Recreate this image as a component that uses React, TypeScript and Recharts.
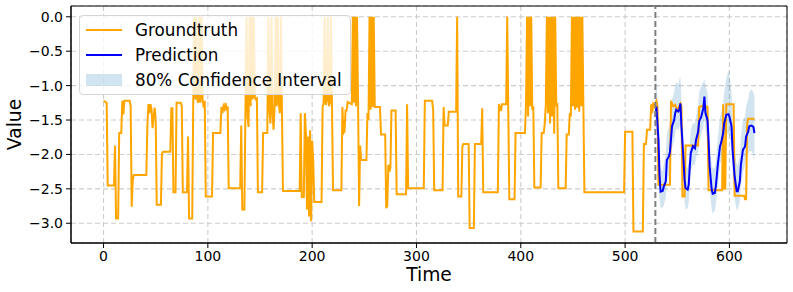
import React from 'react';
import {
  ComposedChart,
  Line,
  Area,
  XAxis,
  YAxis,
  CartesianGrid,
  ReferenceLine,
  ReferenceArea,
} from 'recharts';

// Groundtruth series: [time, value]
const groundtruth: [number, number][] = [
  [0, -1.22], [3, -1.25], [4, -2.45], [10, -2.45], [11, -1.87], [12, -2.93], [14, -2.93], [15, -1.69], [17, -1.69], [18, -1.22], [19, -1.42], [20, -1.22], [25, -1.22], [26, -1.3], [27, -2.76], [28, -2.37], [29, -2.3], [41, -2.3], [42, -1.6], [43, -1.27], [44, -1.4], [45, -1.27], [46, -1.35], [47, -1.62], [48, -1.45], [49, -1.32], [50, -1.5], [51, -2.73], [55, -2.73], [56, -1.99], [57, -1.96], [64, -1.96], [65, -1.33], [66, -1.33], [67, -2.55], [69, -2.55], [70, -1.25], [74, -1.25], [75, -1.3], [76, -2.55], [80, -2.55], [81, -1.74], [82, -2.93], [85, -2.93],
  [86, -1.2], [87, 0], [88, -1.2], [89, 0], [90, -1.22], [91, -1.25], [92, 0], [93, -1.25], [94, 0], [95, -1.2], [96, -1.32], [97, -1.22], [98, -2.61], [104, -2.61], [105, -1.69], [112, -1.69], [113, -1.31], [114, -1.4], [115, -1.3], [116, -1.34], [117, -1.25], [118, -1.36], [119, -1.3], [120, -2.49], [131, -2.49], [132, -1.58], [133, -2.8], [135, -2.8], [136, -1.4], [137, 0], [138, -1.45], [139, -1.6], [140, 0], [141, -1.3], [142, 0], [143, -1.2], [144, 0], [145, -1.17], [146, -1.2], [147, -1.17], [148, -2.55], [152, -2.55], [153, -1.69], [157, -1.69], [158, 0], [159, -1.35], [160, -1.55], [161, 0], [162, -1.4], [163, -1.64], [164, -1.3], [165, 0], [166, -1.3], [167, 0], [168, -1.25], [169, -1.4], [170, 0], [171, -1.35], [172, -2.53], [188, -2.53], [189, -1.4], [190, -2.62], [192, -2.62], [193, -1.4], [194, -1.7], [195, -2.8], [196, -1.74], [197, -2.9], [198, -1.65], [199, -2.97], [200, -1.8], [201, -2.1], [202, -2.69], [209, -2.69], [210, -1.31], [211, -1.25], [212, 0], [213, -1.28], [214, -1.22], [215, 0], [216, -1.3], [217, -1.25], [218, 0], [219, -1.28], [220, -2.52], [228, -2.52], [229, -1.31], [230, -1.69], [231, -1.67], [232, -1.36], [233, -1.36], [234, -1.24], [238, -1.27], [239, 0], [240, -1.25], [241, 0], [242, -1.3], [243, 0], [244, -1.25], [245, -2.75], [246, -1.87], [247, -2.08], [252, -2.08], [253, -1.4], [254, -1.5], [255, 0], [256, -1.35], [257, 0], [258, -1.31], [259, 0], [260, -1.31], [265, -1.31], [266, -1.71], [270, -1.71], [271, -2.78], [272, -2.75], [273, -2.15], [274, -2.25], [275, -2.2], [276, -1.36], [280, -1.36], [281, -2.58], [290, -2.58], [291, -1.27], [292, -2.49], [307, -2.49], [308, -1.22], [315, -1.22], [316, -1.36], [317, -2.52], [325, -2.52], [326, -1.31], [327, -1.58], [330, -1.58], [331, -1.38], [338, -1.38], [339, 0], [340, -2.61], [343, -2.61], [344, -1.88], [345, -1.85], [350, -1.85], [351, -3.07], [355, -3.07], [356, -1.85], [362, -1.85], [363, -1.33], [364, -2.55], [378, -2.55], [379, -1.27], [380, -1.31], [381, -1.37], [382, -1.27], [386, -1.27], [387, 0], [388, -1.36], [389, -2.65], [394, -2.65], [395, -1.69], [404, -1.69], [405, -1.27], [406, 0], [407, -1.45], [408, 0], [409, -1.3], [410, 0], [411, -1.35], [412, -1.3], [413, -2.48], [419, -2.48], [420, -1.69], [422, -1.69], [423, -1.55], [424, -1.27], [425, 0], [426, -1.4], [427, 0], [428, -1.55], [429, 0], [430, -1.45], [431, 0], [432, -1.7], [433, 0], [434, -1.3], [435, -1.25], [436, -2.49], [443, -2.49], [444, -1.71], [446, -1.71], [447, -1.4], [448, -1.45], [449, 0], [450, -1.3], [451, 0], [452, -1.35], [453, 0], [454, -1.32], [455, 0], [456, -1.38], [457, 0], [458, -1.3], [459, 0], [460, -1.3], [461, -2.55], [499, -2.55], [500, -1.67], [507, -1.67], [508, -3.12], [517, -3.12], [518, -1.85], [520, -1.85], [521, -1.64], [524, -1.64], [525, -1.27], [526, -1.4], [527, -1.27], [528, -1.3], [529, -1.25], [530, -1.22], [531, -1.3], [532, -2.44], [543, -2.44], [544, -1.22], [546, -1.3], [548, -1.28], [550, -1.36], [553, -1.26], [554, -1.3], [555, -2.61], [557, -2.61], [558, -1.87], [570, -1.87], [571, -1.31], [575, -1.29], [579, -1.31], [580, -2.52], [593, -2.52], [594, -1.27], [595, -2.5], [596, -2.5], [597, -1.27], [604, -1.27], [605, -2.6], [614, -2.6], [615, -2.65], [616, -2.65], [617, -1.55], [618, -1.48], [624, -1.48],
];

// Prediction: [time, mean, lower80, upper80]
const prediction: [number, number, number, number][] = [
  [529, -1.45, -1.7, -0.85], [530, -1.3, -1.55, -0.95], [532, -1.79, -2.15, -1.35], [533, -2.3, -2.65, -1.9], [534, -2.54, -2.78, -2.2], [536, -2.53, -2.77, -2.25], [537, -2.47, -2.75, -2.15], [539, -2.39, -2.62, -2.0], [540, -2.08, -2.4, -1.7], [542, -2.03, -2.3, -1.6], [543, -1.96, -2.2, -1.55], [545, -1.59, -1.9, -1.2], [547, -1.5, -1.8, -1.1], [548, -1.4, -1.7, -1.0], [549, -1.35, -1.62, -0.95], [551, -1.375, -1.65, -0.98], [552, -1.35, -1.6, -0.9], [553, -1.26, -1.55, -0.87], [554, -1.59, -1.9, -1.2], [556, -2.08, -2.4, -1.7], [557, -2.37, -2.7, -2.0], [558, -2.49, -2.8, -2.15], [560, -2.51, -2.78, -2.2], [561, -2.44, -2.7, -2.1], [562, -2.17, -2.45, -1.85], [563, -1.98, -2.25, -1.65], [565, -1.88, -2.15, -1.55], [567, -1.91, -2.15, -1.55], [568, -1.79, -2.05, -1.45], [570, -1.67, -1.95, -1.3], [571, -1.52, -1.8, -1.1], [573, -1.45, -1.7, -1.0], [575, -1.33, -1.6, -0.95], [576, -1.16, -1.45, -0.9], [577, -1.4, -1.65, -1.0], [579, -1.5, -1.8, -1.1], [580, -1.79, -2.1, -1.45], [581, -2.17, -2.5, -1.8], [583, -2.51, -2.8, -2.15], [584, -2.57, -2.86, -2.2], [586, -2.56, -2.82, -2.2], [587, -2.46, -2.72, -2.1], [589, -2.13, -2.45, -1.75], [591, -1.88, -2.15, -1.45], [592, -1.835, -2.1, -1.4], [594, -1.69, -1.95, -1.25], [595, -1.55, -1.85, -1.1], [597, -1.425, -1.7, -0.9], [599, -1.415, -1.7, -0.77], [600, -1.45, -1.72, -0.85], [602, -1.59, -1.9, -1.1], [603, -1.93, -2.25, -1.5], [605, -2.32, -2.65, -1.95], [607, -2.535, -2.81, -2.15], [608, -2.535, -2.8, -2.15], [610, -2.39, -2.68, -2.0], [611, -2.15, -2.45, -1.75], [613, -1.93, -2.25, -1.5], [615, -1.884, -2.15, -1.45], [616, -1.74, -2.05, -1.3], [618, -1.67, -2.0, -1.2], [619, -1.59, -1.95, -1.1], [621, -1.58, -1.95, -1.05], [623, -1.6, -2.0, -1.1], [624, -1.69, -2.1, -1.15],
];

const forecastStart = 529;
const xTicks = [0, 100, 200, 300, 400, 500, 600];
const yTicks = [-3, -2.5, -2, -1.5, -1, -0.5, 0];
const xDomain: [number, number] = [-31.2, 655.2];
const yDomain: [number, number] = [-3.287, 0.157];
const legendLabels = ['Groundtruth', 'Prediction', '80% Confidence Interval'];

const gtData = groundtruth.map(([x, y]) => ({ x, y }));
const predData = prediction.map(([x, m, lo, hi]) => ({ x, y: m, range: [lo, hi] }));

const FONT = '"DejaVu Sans", sans-serif';
const fmtY = (v: number) => {
  const s = Math.abs(v).toFixed(1);
  return v < 0 ? '\u2212' + s : s;
};

export default function App() {
  return (
    <div style={{ position: 'absolute', left: 0, top: 0, width: 793, height: 292, background: '#fff' }}>
      <ComposedChart width={793} height={292} margin={{ top: 6, right: 6, left: 0, bottom: 0 }}>
        <CartesianGrid stroke="#cccccc" strokeDasharray="5 3" strokeWidth={1.1} />
        <XAxis
          type="number"
          dataKey="x"
          domain={xDomain}
          ticks={xTicks}
          allowDataOverflow
          height={49}
          tickSize={5}
          tickMargin={3}
          stroke="#000"
          tick={{ fill: '#000', fontSize: 14, fontFamily: FONT }}
          label={{ value: 'Time', position: 'insideBottom', offset: 11, fill: '#000', fontSize: 18.7, fontFamily: FONT }}
        />
        <YAxis
          type="number"
          domain={yDomain}
          ticks={yTicks}
          allowDataOverflow
          width={71}
          tickSize={5}
          tickMargin={3}
          stroke="#000"
          tickFormatter={fmtY}
          tick={{ fill: '#000', fontSize: 14, fontFamily: FONT }}
          label={{ value: 'Value', angle: -90, position: 'insideLeft', offset: 14.5, fill: '#000', fontSize: 18.7, fontFamily: FONT, style: { textAnchor: 'middle' } }}
        />
        <Area
          data={predData}
          dataKey="range"
          type="linear"
          stroke="none"
          fill="#1f77b4"
          fillOpacity={0.2}
          isAnimationActive={false}
          activeDot={false}
        />
        <Line data={gtData} dataKey="y" type="linear" stroke="#ffa500" strokeWidth={2} dot={false} isAnimationActive={false} />
        <Line data={predData} dataKey="y" type="linear" stroke="#0000ff" strokeWidth={2} dot={false} isAnimationActive={false} />
        <ReferenceLine x={forecastStart} stroke="#7f7f7f" strokeWidth={2} strokeDasharray="6 3" />
        <ReferenceArea x1={xDomain[0]} x2={xDomain[1]} y1={yDomain[0]} y2={yDomain[1]} fill="none" stroke="#000" strokeWidth={1} ifOverflow="extendDomain" />
      </ComposedChart>
      <div
        style={{
          position: 'absolute',
          left: 79,
          top: 15,
          width: 270,
          height: 78,
          background: 'rgba(255,255,255,0.8)',
          border: '1px solid #d5d5d5',
          borderRadius: 4,
          fontFamily: FONT,
          fontSize: 16.8,
          color: '#000',
        }}
      >
        {legendLabels.map((label, i) => (
          <div key={label} style={{ position: 'absolute', left: 0, top: 1 + i * 25.3, height: 25, display: 'flex', alignItems: 'center', whiteSpace: 'nowrap' }}>
            {i < 2 ? (
              <div style={{ marginLeft: 6, width: 36, height: 2, background: i === 0 ? '#ffa500' : '#0000ff' }} />
            ) : (
              <div style={{ marginLeft: 6, width: 36, height: 12, background: 'rgba(31,119,180,0.2)' }} />
            )}
            <span style={{ marginLeft: 13 }}>{label}</span>
          </div>
        ))}
      </div>
    </div>
  );
}
